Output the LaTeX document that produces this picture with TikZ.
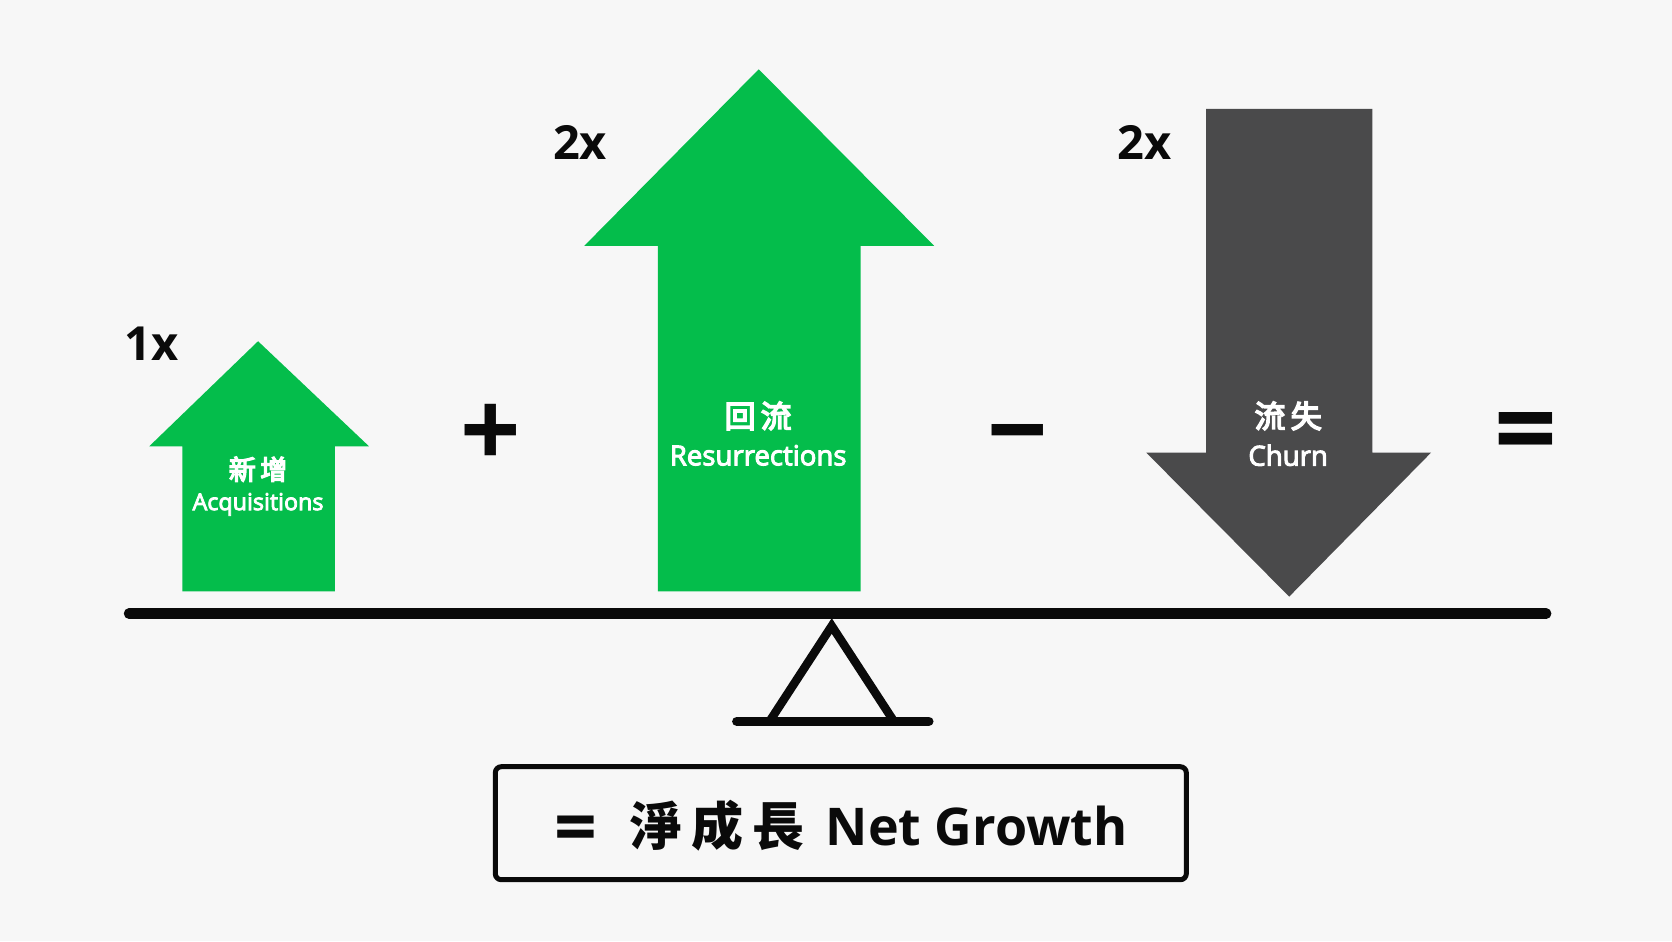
\documentclass[tikz,border=0pt]{standalone}
\usepackage{fontspec}
\setmainfont{Open Sans}
\newfontfamily\cjk{Noto Sans CJK TC}
\newfontfamily\heavy{Open Sans}
\newfontfamily\midw{Open Sans}[FakeBold=3.5]
\newfontfamily\cjkmid{Noto Sans CJK TC}[FakeBold=5]
\definecolor{bg}{HTML}{F7F7F7}
\definecolor{grn}{HTML}{04BD4B}
\definecolor{drk}{HTML}{4A4A4B}
\definecolor{ink}{HTML}{0A0A0A}
\tikzset{
  upgreen/.style={fill=grn,draw=none},
  downdark/.style={fill=drk,draw=none},
  beamline/.style={draw=ink,line cap=round},
  zhlabel/.style={text=white,font=\cjkmid\fontsize{27}{30}\selectfont,inner sep=0pt},
  enlabel/.style={text=white,font=\midw\fontsize{27.6}{30}\selectfont,inner sep=0pt},
  multlabel/.style={text=ink,font=\heavy\bfseries\fontsize{47}{50}\selectfont,inner sep=0pt},
  opsign/.style={text=ink,font=\heavy\bfseries\fontsize{106}{106}\selectfont,inner sep=0pt},
}
\begin{document}
\begin{tikzpicture}[x=1.06633pt,y=-1.06633pt]
\path[use as bounding box,fill=bg] (0,0) rectangle (1568,882.5);
% arrows
\path[upgreen] (242,320)--(346,418.5)--(314,418.5)--(314,554.5)--(171,554.5)--(171,418.5)--(140,418.5)--cycle;
\path[upgreen] (711.5,65)--(876,230.5)--(807,230.5)--(807,554.5)--(617,554.5)--(617,230.5)--(548,230.5)--cycle;
\path[downdark] (1131,102)--(1287,102)--(1287,424.5)--(1342,424.5)--(1209,559.5)--(1075,424.5)--(1131,424.5)--cycle;
% beam and fulcrum
\coordinate (beamL) at (121,575.5);
\coordinate (beamR) at (1450,575.5);
\draw[beamline,line width=10.5pt] (beamL)--(beamR);
\coordinate (apex) at (780,587);
\coordinate (fl) at (722,676);
\coordinate (fr) at (838,676);
\draw[draw=ink,line width=8.5pt,miter limit=10] (fl)--(apex)--(fr);
\coordinate (baseL) at (691,676.5);
\coordinate (baseR) at (871,676.5);
\draw[beamline,line width=9.5pt] (baseL)--(baseR);
% labels
\node[zhlabel] (zh1) at (242,440) {新\,增};
\node[enlabel,font=\midw\fontsize{23.3}{26}\selectfont] (en1) at (242,473) {Acquisitions};
\node[zhlabel,font=\cjkmid\fontsize{31}{34}\selectfont] (zh2) at (711,390) {回\,流};
\node[enlabel] (en2) at (711,427) {Resurrections};
\node[zhlabel,font=\cjkmid\fontsize{31}{34}\selectfont] (zh3) at (1208,390) {流\,失};
\node[enlabel] (en3) at (1208,427) {Churn};
\node[multlabel] (m1) at (142,322) {1x};
\node[multlabel] (m2) at (544,134) {2x};
\node[multlabel] (m3) at (1073,134) {2x};
\node[opsign] (plus) at (460,409) {+};
\node[opsign] (minus) at (954,418) {−};
\node[opsign,font=\heavy\bfseries\fontsize{110}{110}\selectfont] (equal) at (1431,413) {=};
% result box
\node[draw=ink,line width=5pt,rounded corners=6pt,minimum width=691pt,minimum height=113pt,inner sep=0pt,text=ink,text height=62pt,text depth=18pt] (box) at (788.5,772)
  {\heavy\bfseries\fontsize{52}{58}\selectfont \raisebox{-8pt}{\fontsize{75}{75}\selectfont =}\hspace{34pt}{\cjk\bfseries\fontsize{52}{58}\selectfont 淨\,成\,長}\hspace{8pt} Net Growth};
\end{tikzpicture}
\end{document}
